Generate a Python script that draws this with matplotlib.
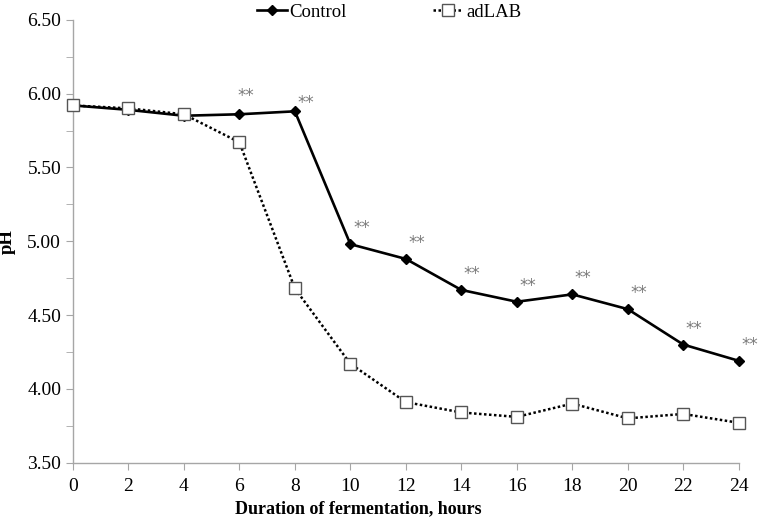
import matplotlib.pyplot as plt

hours = [0, 2, 4, 6, 8, 10, 12, 14, 16, 18, 20, 22, 24]
control = [5.92, 5.89, 5.85, 5.86, 5.88, 4.98, 4.88, 4.67, 4.59, 4.64, 4.54, 4.30, 4.19]
adlab = [5.92, 5.90, 5.86, 5.67, 4.68, 4.17, 3.91, 3.84, 3.81, 3.90, 3.80, 3.83, 3.77]
# control points marked with ** (significant difference)
star_idx = [3, 4, 5, 6, 7, 8, 9, 10, 11, 12]

plt.rcParams['font.family'] = ['Liberation Serif', 'DejaVu Serif']
grey = '#a6a6a6'

fig = plt.figure(figsize=(7.6, 5.21), dpi=100)
ax = fig.add_axes([0.096, 0.112, 0.876, 0.85])

ax.plot(hours, control, color='black', lw=1.9, marker='D', ms=5,
        label='Control', zorder=3, clip_on=False)
ax.plot(hours, adlab, color='black', lw=1.8, ls=(0, (1, 1)), marker='s', ms=8,
        mfc='white', mec='#555555', mew=1.0, label='adLAB', zorder=3, clip_on=False)

for i in star_idx:
    dx, dy = (11, 16)
    if hours[i] == 6:
        dx, dy = (6, 18)
    elif hours[i] == 8:
        dx, dy = (11, 8)
    ax.annotate('**', (hours[i], control[i]), xytext=(dx, dy),
                textcoords='offset pixels', ha='center', va='center',
                fontsize=12, color='#7a7a7a', family='DejaVu Sans')

ax.set_xlim(0, 24)
ax.set_ylim(3.5, 6.5)
ax.set_xticks(hours)
ax.set_yticks([3.5, 4.0, 4.5, 5.0, 5.5, 6.0, 6.5])
ax.set_yticks([3.75, 4.25, 4.75, 5.25, 5.75, 6.25], minor=True)
ax.set_yticklabels(['%.2f' % v for v in ax.get_yticks()])
ax.tick_params(axis='both', which='both', direction='out', color=grey,
               length=5, labelsize=14)
ax.tick_params(axis='x', pad=6)

for s in ['top', 'right']:
    ax.spines[s].set_visible(False)
for s in ['left', 'bottom']:
    ax.spines[s].set_color(grey)
    ax.spines[s].set_linewidth(1.0)

ax.set_xlabel('Duration of fermentation, hours', fontsize=13, fontweight='bold')
ax.xaxis.set_label_coords(0.428, -0.085)
ax.set_ylabel('pH', fontsize=13.5, fontweight='bold', labelpad=8)

fig.legend(loc='upper center', bbox_to_anchor=(0.512, 1.025), ncol=2, frameon=False,
           fontsize=13.5, handlelength=1.6, columnspacing=4.6, handletextpad=0.15)

fig.savefig('out.png', dpi=100)
